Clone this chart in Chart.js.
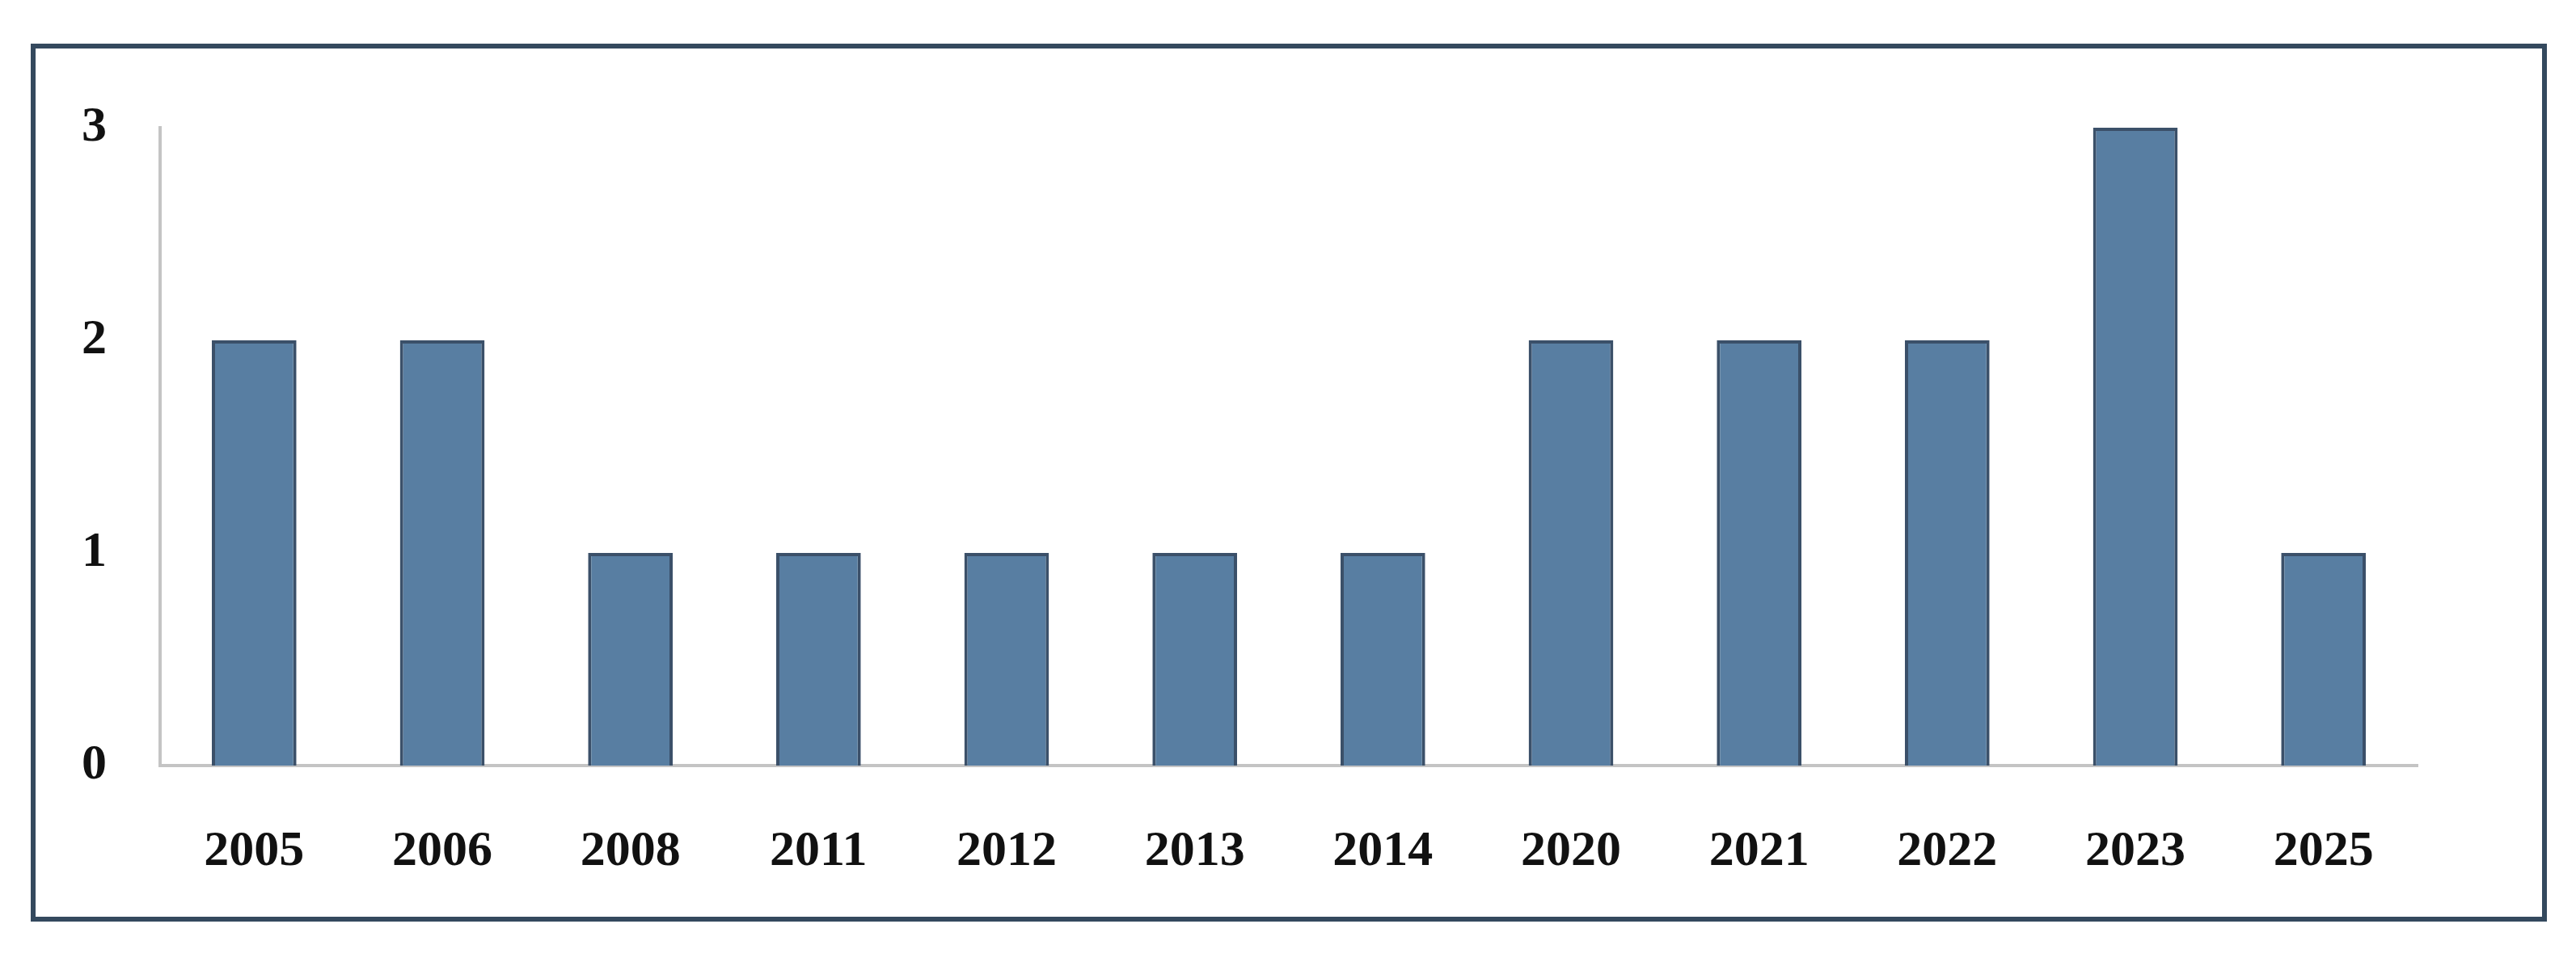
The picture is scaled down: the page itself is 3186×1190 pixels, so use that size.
<!DOCTYPE html>
<html>
<head>
<meta charset="utf-8">
<script src="https://cdn.jsdelivr.net/npm/chart.js@4/dist/chart.umd.min.js"></script>
<style>
  body { margin: 0; background: #fff; }
  #frame { position: absolute; left: 38px; top: 54px; width: 3100px; height: 1074px; border: 6px solid #34495e; }
  #wrap { position: absolute; left: 0; top: 0; width: 3186px; height: 1190px; }
</style>
</head>
<body>
<div id="frame"></div>
<div id="wrap"><canvas id="grafico"></canvas></div>
<script>
// dados
const anos = ['2005', '2006', '2008', '2011', '2012', '2013', '2014', '2020', '2021', '2022', '2023', '2025'];
const quantidades = [2, 2, 1, 1, 1, 1, 1, 2, 2, 2, 3, 1];
const ticksY = [0, 1, 2, 3];

const fonte = { family: '"Liberation Serif", "DejaVu Serif", serif', size: 62, weight: 'bold' };

new Chart(document.getElementById('grafico').getContext('2d'), {
    type: 'bar',
    data: {
        labels: anos,
        datasets: [{
            data: quantidades,
            backgroundColor: '#587ea2',
            borderColor: '#3b5069',
            borderWidth: 4,
            barPercentage: 0.45,
            categoryPercentage: 1
        }]
    },
    options: {
        responsive: true,
        maintainAspectRatio: false,
        animation: false,
        layout: { padding: { left: 0, right: 196, top: 158, bottom: 0 } },
        plugins: { legend: { display: false }, tooltip: { enabled: false } },
        scales: {
            x: {
                grid: { display: false },
                border: { display: true, color: '#c4c4c4', width: 4 },
                ticks: { color: '#111', font: fonte, padding: 62, maxRotation: 0 },
                afterFit: s => { s.height = 243; }
            },
            y: {
                min: 0,
                max: 3,
                afterBuildTicks: s => { s.ticks = ticksY.map(v => ({ value: v })); },
                grid: { display: false },
                border: { display: true, color: '#c4c4c4', width: 4 },
                ticks: { color: '#111', font: fonte, padding: 58 },
                afterFit: s => { s.width = 198; }
            }
        }
    }
});
</script>
</body>
</html>
